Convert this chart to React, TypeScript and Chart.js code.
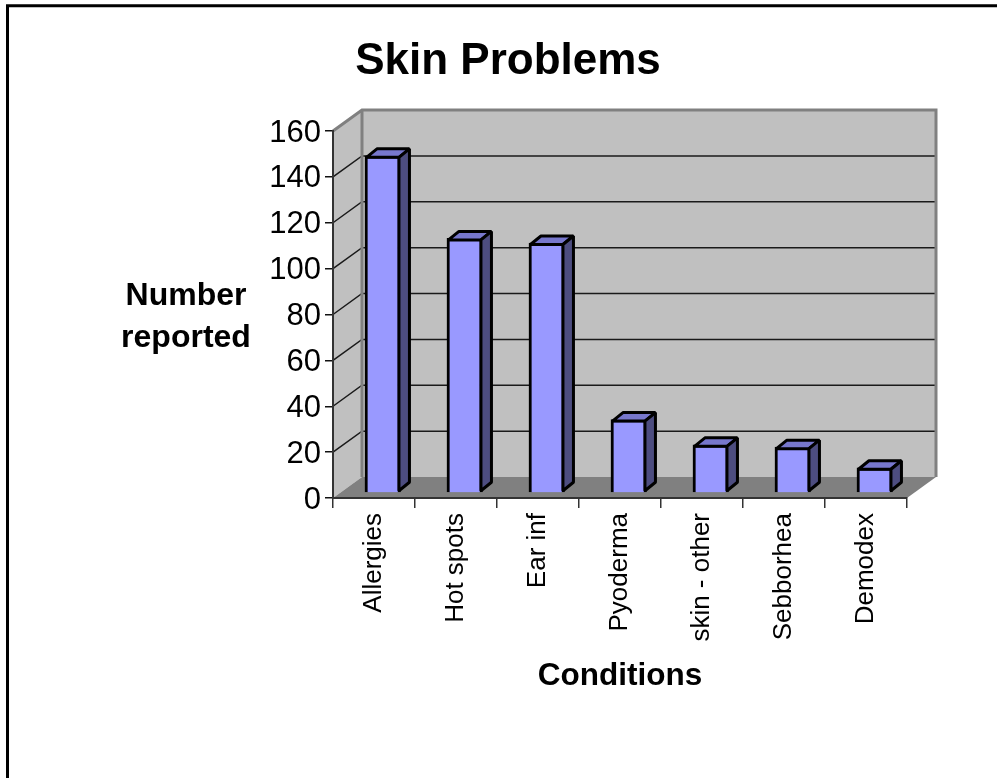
import { useEffect, useRef } from "react";
import { Chart, registerables } from "chart.js";

Chart.register(...registerables);

const categories = ["Allergies", "Hot spots", "Ear inf", "Pyoderma", "skin - other", "Sebborhea", "Demodex"];
const counts = [147, 111, 109, 32, 21, 20, 11];
const yTitleLines = ["Number", "reported"];

const FONT = '"Liberation Sans", Arial, sans-serif';
const WALL_DX = 29;
const WALL_DY = -21;
const BAR_SHIFT_X = 8.7;
const BAR_SHIFT_Y = -5;
const BAR_DX = 10.5;
const BAR_DY = -8.5;
const BAR_LINE = 3;

const poly = (ctx: CanvasRenderingContext2D, pts: number[][]) => {
  ctx.beginPath();
  pts.forEach(([x, y], i) => (i ? ctx.lineTo(x, y) : ctx.moveTo(x, y)));
  ctx.closePath();
};

// Page frame, box walls, floor and gridlines of the 3D plot.
const backdrop = {
  id: "backdrop",
  beforeDraw(chart: any) {
    const { ctx, chartArea: a, scales } = chart;
    const { left: l, right: r, top: t, bottom: b } = a;
    ctx.save();

    ctx.strokeStyle = "#000";
    ctx.lineWidth = 3;
    ctx.beginPath();
    ctx.moveTo(7.5, 800);
    ctx.lineTo(7.5, 5.8);
    ctx.lineTo(1010, 5.8);
    ctx.stroke();

    ctx.fillStyle = "#c0c0c0";
    poly(ctx, [[l, b], [l, t], [l + WALL_DX, t + WALL_DY], [l + WALL_DX, b + WALL_DY]]);
    ctx.fill();
    ctx.fillRect(l + WALL_DX, t + WALL_DY, r - l, b - t);

    ctx.fillStyle = "#808080";
    poly(ctx, [[l, b], [r, b], [r + WALL_DX, b + WALL_DY], [l + WALL_DX, b + WALL_DY]]);
    ctx.fill();

    ctx.lineWidth = 1.5;
    ctx.strokeStyle = "#1a1a1a";
    scales.y.ticks.forEach((tick: any) => {
      if (tick.value === 0 || tick.value === 160) return;
      const y = scales.y.getPixelForValue(tick.value);
      ctx.beginPath();
      ctx.moveTo(l, y);
      ctx.lineTo(l + WALL_DX, y + WALL_DY);
      ctx.lineTo(r + WALL_DX, y + WALL_DY);
      ctx.stroke();
    });

    ctx.strokeStyle = "#808080";
    ctx.lineWidth = 3;
    ctx.beginPath();
    ctx.moveTo(l, t);
    ctx.lineTo(l + WALL_DX, t + WALL_DY);
    ctx.lineTo(r + WALL_DX, t + WALL_DY);
    ctx.lineTo(r + WALL_DX, b + WALL_DY);
    ctx.moveTo(l + WALL_DX, t + WALL_DY);
    ctx.lineTo(l + WALL_DX, b + WALL_DY);
    ctx.stroke();

    ctx.restore();
  },
};

// Moves the bars onto the floor and adds their top and side faces.
const bars3d = {
  id: "bars3d",
  beforeDatasetsDraw(chart: any) {
    chart.ctx.save();
    chart.ctx.translate(BAR_SHIFT_X, BAR_SHIFT_Y);
  },
  afterDatasetsDraw(chart: any) {
    const { ctx } = chart;
    ctx.lineWidth = BAR_LINE;
    ctx.lineJoin = "bevel";
    ctx.strokeStyle = "#000";
    chart.getDatasetMeta(0).data.forEach((bar: any) => {
      const { x, y, base, width } = bar.getProps(["x", "y", "base", "width"], true);
      const inset = BAR_LINE / 2;
      const x0 = x - width / 2 + inset;
      const x1 = x + width / 2 - inset;
      const yt = y + inset;
      const yb = base - inset;
      ctx.fillStyle = "#7777cc";
      poly(ctx, [[x0, yt], [x0 + BAR_DX, yt + BAR_DY], [x1 + BAR_DX, yt + BAR_DY], [x1, yt]]);
      ctx.fill();
      ctx.stroke();
      ctx.fillStyle = "#4d4d80";
      poly(ctx, [[x1, yt], [x1 + BAR_DX, yt + BAR_DY], [x1 + BAR_DX, yb + BAR_DY], [x1, yb]]);
      ctx.fill();
      ctx.stroke();
    });
    ctx.restore();
  },
};

// Horizontal value-axis caption, which the scale title cannot lay out.
const yCaption = {
  id: "yCaption",
  afterDraw(chart: any) {
    const { ctx } = chart;
    ctx.save();
    ctx.font = `bold 32px ${FONT}`;
    ctx.fillStyle = "#000";
    ctx.textAlign = "center";
    ctx.textBaseline = "middle";
    yTitleLines.forEach((line, i) => ctx.fillText(line, 186, 296.5 + i * 42));
    ctx.restore();
  },
};

export default function App() {
  const ref = useRef<HTMLCanvasElement>(null);
  useEffect(() => {
    const chart = new Chart(ref.current!, {
      type: "bar",
      data: {
        labels: categories,
        datasets: [
          {
            data: counts,
            backgroundColor: "#9999ff",
            borderColor: "#000",
            borderWidth: BAR_LINE,
            barThickness: 35.5,
            clip: false,
          } as any,
        ],
      },
      plugins: [backdrop, bars3d, yCaption],
      options: {
        animation: false,
        responsive: false,
        layout: { padding: { left: 109, right: 90, top: 0, bottom: 0 } },
        plugins: {
          legend: { display: false },
          tooltip: { enabled: false },
          title: {
            display: true,
            text: "Skin Problems",
            color: "#000",
            font: { family: FONT, size: 44, weight: "bold" },
            padding: { top: 35.5, bottom: 42.7 },
          },
        },
        scales: {
          x: {
            offset: true,
            afterFit: (s: any) => {
              s.height = 280;
            },
            grid: { offset: true, drawOnChartArea: false, color: "#333", tickLength: 10, lineWidth: 1.5 },
            border: { color: "#333", width: 2 },
            ticks: {
              color: "#000",
              font: { family: FONT, size: 26 },
              minRotation: 90,
              maxRotation: 90,
              autoSkip: false,
              padding: 5,
            },
            title: {
              display: true,
              text: "Conditions",
              color: "#000",
              font: { family: FONT, size: 31.5, weight: "bold" },
              padding: { top: 0, bottom: 83 },
            },
          },
          y: {
            min: 0,
            max: 160,
            afterFit: (s: any) => {
              s.width = 224;
            },
            grid: { drawOnChartArea: false, color: "#111", tickLength: 8, lineWidth: 1.5 },
            border: { color: "#333", width: 2 },
            ticks: {
              stepSize: 20,
              color: "#000",
              font: { family: FONT, size: 31 },
              padding: 4,
              labelOffset: 2,
            },
          },
        },
      },
    } as any);
    return () => chart.destroy();
  }, []);
  return (
    <canvas
      ref={ref}
      width={997}
      height={778}
      style={{ position: "absolute", left: 0, top: 0, width: 997, height: 778 }}
    />
  );
}
